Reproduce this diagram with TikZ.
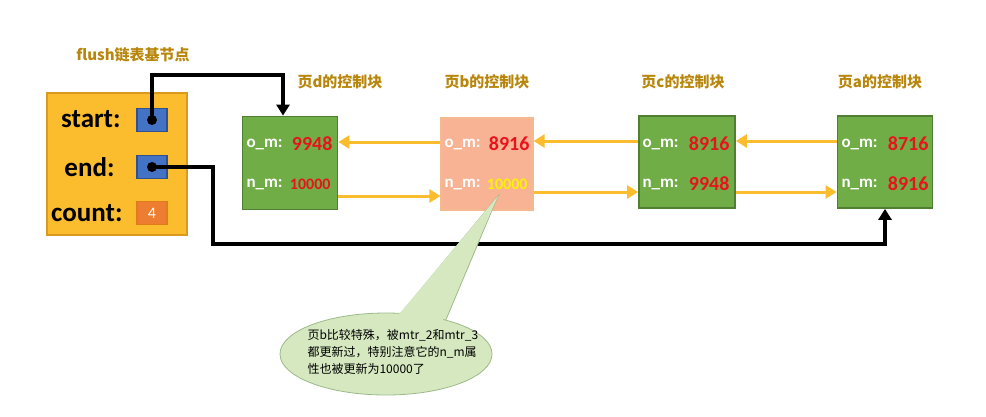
\documentclass[tikz,border=0pt]{standalone}
\usepackage{fontspec}
\setmainfont{Carlito}
\newfontfamily\cjk{Noto Sans CJK SC}
\usetikzlibrary{arrows.meta,shapes.geometric}
\definecolor{gold}{HTML}{FBBD2E}
\definecolor{goldb}{HTML}{D89B20}
\definecolor{blu}{HTML}{4472C4}
\definecolor{blub}{HTML}{2F528F}
\definecolor{org}{HTML}{ED7D31}
\definecolor{grn}{HTML}{70AD47}
\definecolor{grnb}{HTML}{507E32}
\definecolor{sal}{HTML}{F8B294}
\definecolor{salb}{HTML}{F4B183}
\definecolor{lbl}{HTML}{B8860B}
\definecolor{arr}{HTML}{FBBD2E}
\definecolor{cal}{HTML}{D5E8C0}
\definecolor{calb}{HTML}{9DB98A}
\definecolor{rd}{HTML}{E8141C}
\tikzset{
 blk/.style={draw=grnb,fill=grn,line width=1.8pt},
 ttl/.style={text=lbl,font=\cjk\fontsize{15}{17}\selectfont\bfseries},
 key/.style={font=\fontsize{17}{19}\selectfont\bfseries,text=white,anchor=west},
 val/.style={font=\fontsize{20}{22}\selectfont\bfseries,text=rd,anchor=east},
 ya/.style={draw=arr,line width=3pt,-{Triangle[length=11pt,width=13pt]}},
 ba/.style={draw=black,line width=3.2pt,-{Triangle[length=11pt,width=13pt]}},
 big/.style={font=\fontsize{27}{29}\selectfont\bfseries,anchor=east},
}
\begin{document}
\begin{tikzpicture}[x=1pt,y=-1pt]
\useasboundingbox (0,0) rectangle (986,416);
% base
\node[draw=goldb,fill=gold,line width=1.8pt,minimum width=140pt,minimum height=142pt,inner sep=0pt] (base) at (117,164) {};
\node[ttl] (ft) at (133,55) {flush链表基节点};
\node[big] (ls) at (124,119) {start:};
\node[big] (le) at (118,167) {end:};
\node[big] (lc) at (126,213) {count:};
\node[draw=blub,fill=blu,line width=1.5pt,minimum width=30pt,minimum height=23pt,inner sep=0pt] (bs) at (152,120) {};
\node[draw=blub,fill=blu,line width=1.5pt,minimum width=30pt,minimum height=23pt,inner sep=0pt] (be) at (152,167) {};
\node[draw=goldb!80!red,fill=org,line width=1.5pt,minimum width=30pt,minimum height=23pt,inner sep=0pt,text=white,font=\fontsize{16}{18}\selectfont] (bc) at (152,213) {4};
\fill (bs.center) circle (5pt);
\fill (be.center) circle (5pt);
% blocks
\node[blk,minimum width=95pt,minimum height=93pt,inner sep=0pt] (d) at (290,163) {};
\node[draw=salb!90!white,fill=sal,line width=1.2pt,minimum width=92pt,minimum height=92pt,inner sep=0pt] (b) at (487,164) {};
\node[blk,minimum width=96pt,minimum height=92pt,inner sep=0pt] (c) at (687,162) {};
\node[blk,minimum width=95pt,minimum height=92pt,inner sep=0pt] (a) at (885,162) {};
\node[ttl] (td) at (340,82) {页d的控制块};
\node[ttl] (tb) at (487,82) {页b的控制块};
\node[ttl] (tc) at (683,82) {页c的控制块};
\node[ttl] (ta) at (880,82) {页a的控制块};
% texts
\node[key] (dko) at (243,144) {o\_m:};
\node[val] (dvo) at (336,144) {9948};
\node[key] (dkn) at (243,184) {n\_m:};
\node[val,font=\fontsize{16}{18}\selectfont\bfseries] (dvn) at (334,184) {10000};
\node[key] (bko) at (441,144) {o\_m:};
\node[val] (bvo) at (533,144) {8916};
\node[key] (bkn) at (441,184) {n\_m:};
\node[val,text=yellow,font=\fontsize{16}{18}\selectfont\bfseries] (bvn) at (531,184) {10000};
\node[key] (cko) at (639,144) {o\_m:};
\node[val] (cvo) at (733,144) {8916};
\node[key] (ckn) at (639,184) {n\_m:};
\node[val] (cvn) at (733,184) {9948};
\node[key] (ako) at (838,144) {o\_m:};
\node[val] (avo) at (932,144) {8716};
\node[key] (akn) at (838,184) {n\_m:};
\node[val] (avn) at (932,184) {8916};
% yellow arrows
\draw[ya] (b.west|-0,142) -- (d.east|-0,142);
\draw[ya] (c.west|-0,141) -- (b.east|-0,141);
\draw[ya] (a.west|-0,141) -- (c.east|-0,141);
\draw[ya] (d.east|-0,196) -- (b.west|-0,196);
\draw[ya] (b.east|-0,192) -- (c.west|-0,192);
\draw[ya] (c.east|-0,192) -- (a.west|-0,192);
% black pointers
\draw[ba] (bs.center) -- (152,75) -- (283,75) -- (283,0 |- d.north);
\draw[ba] (be.center) -- (213,167) -- (213,244) -- (885,244) -- (a.south);
% callout
\coordinate (tip) at (498,196);
\draw[draw=calb,fill=cal,line width=0.8pt] (393,323) -- (tip) -- (445,322) -- cycle;
\node[draw=calb,fill=cal,line width=0.8pt,ellipse,minimum width=212pt,minimum height=82pt,inner sep=0pt] (ell) at (386,354) {};
\fill[cal] (395,319) -- (tip) -- (443,320) -- (420,330) -- cycle;
\node[align=left,anchor=west,font=\cjk\fontsize{12}{17}\selectfont] (ct) at (304,352) {页b比较特殊，被mtr\_2和mtr\_3\\都更新过，特别注意它的n\_m属\\性也被更新为10000了};
\end{tikzpicture}
\end{document}
